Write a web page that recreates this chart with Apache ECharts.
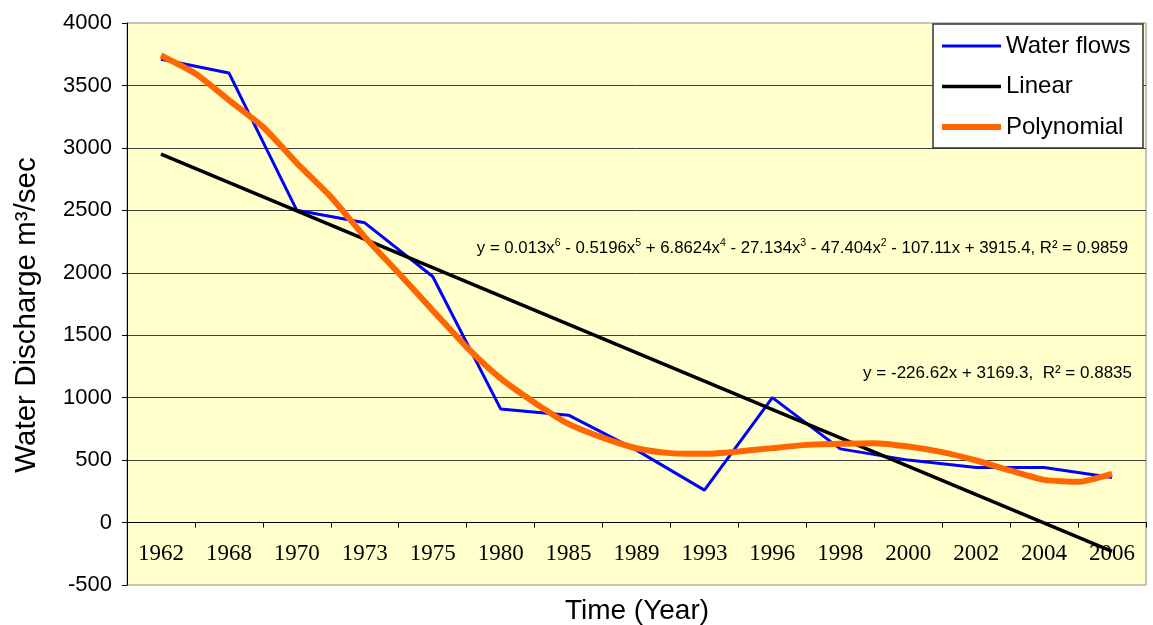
<!DOCTYPE html>
<html><head><meta charset="utf-8">
<script src="https://cdn.jsdelivr.net/npm/echarts@6/dist/echarts.min.js"></script>
<style>html,body{margin:0;padding:0;background:#fff}#c{width:1153px;height:625px}</style>
</head><body><div id="c"></div>
<script>
// Category labels (years)
const years = ['1962','1968','1970','1973','1975','1980','1985','1989','1993','1996','1998','2000','2002','2004','2006'];
// Observed water flows (m3/sec)
const waterFlows = [3710, 3600, 2500, 2400, 1970, 910, 860, 580, 260, 1000, 590, 500, 440, 440, 360];
// Linear trend line, read at first and last category
const linearEnds = [2950, -230];
// Polynomial trend, read at every category and half-way between categories
const polynomial = [3740, 3597, 3383, 3169, 2878, 2608, 2287, 1996, 1699, 1405, 1154, 960, 790, 680, 595,
                    556, 550, 569, 596, 622, 631, 636, 609, 564, 497, 417, 342, 326, 390];
// Y-axis ticks
const yMin = -500, yMax = 4000, yStep = 500;

const chart = echarts.init(document.getElementById('c'), null, {renderer: 'canvas'});
const sans = 'Liberation Sans, Arial, sans-serif';
const serif = 'Liberation Serif, Times New Roman, serif';

const polyData = polynomial.map((v, k) => [0.5 + k * 0.5, v]);
const linData = [[0.5, linearEnds[0]], [years.length - 0.5, linearEnds[1]]];

// legend icons: a band inside a 60x12 box (move-to points fix the box)
const bandIcon = (h) => 'path://M0,0 M60,12 M0,' + (6 - h / 2) + ' H60 V' + (6 + h / 2) + ' H0 Z';

const gridTop = 23, gridBottom = 40, plotH = 625 - gridTop - gridBottom;
const zeroOffset = -plotH * (0 - yMin) / (yMax - yMin);

chart.setOption({
  animation: false,
  backgroundColor: '#ffffff',
  grid: {left: 127, right: 7, top: gridTop, bottom: gridBottom, show: true,
         backgroundColor: '#FFFFCC', borderColor: '#8c8c8c', borderWidth: 1},
  legend: {
    data: [
      {name: 'Water flows', icon: bandIcon(3), itemStyle: {color: '#0000FF'}},
      {name: 'Linear', icon: bandIcon(3.5), itemStyle: {color: '#000000'}},
      {name: 'Polynomial', icon: bandIcon(6), itemStyle: {color: '#FF6600'}}
    ],
    orient: 'vertical', left: 942, top: 34, padding: 0,
    itemWidth: 59, itemHeight: 12, itemGap: 16.5, z: 20,
    textStyle: {fontFamily: sans, fontSize: 24, color: '#000', lineHeight: 24}
  },
  xAxis: [
    {type: 'category', data: years, boundaryGap: true, position: 'bottom', offset: zeroOffset,
     axisLine: {onZero: false, lineStyle: {color: '#000', width: 1}},
     axisTick: {show: true, length: 5, lineStyle: {color: '#000'}},
     axisLabel: {interval: 0, color: '#000', fontFamily: serif, fontSize: 23, margin: 20},
     splitLine: {show: false}},
    {type: 'value', min: 0, max: years.length, show: false}
  ],
  yAxis: {
    type: 'value', min: yMin, max: yMax, interval: yStep,
    axisLine: {show: true, onZero: false, lineStyle: {color: '#000', width: 1}},
    axisTick: {show: true, length: 5, lineStyle: {color: '#000'}},
    axisLabel: {color: '#000', fontFamily: sans, fontSize: 22, margin: 15, formatter: (v) => String(v)},
    splitLine: {show: true, showMinLine: false, showMaxLine: false, lineStyle: {color: '#404040', width: 1}}
  },
  graphic: [
    {type: 'rect', z: 10, shape: {x: 933, y: 24, width: 210, height: 124},
     style: {fill: '#ffffff', stroke: '#333333', lineWidth: 1.5}},
    {type: 'text', x: 637, y: 611, z: 10,
     style: {text: 'Time (Year)', fontFamily: sans, fontSize: 28, fill: '#000', align: 'center', verticalAlign: 'middle'}},
    {type: 'text', x: 27, y: 315, rotation: Math.PI / 2, z: 10,
     style: {text: 'Water Discharge m³/sec', fontFamily: sans, fontSize: 29.5, fill: '#000', align: 'center', verticalAlign: 'middle'}},
    {type: 'text', x: 1128, y: 248, z: 10,
     style: {text: 'y = 0.013x{s|6} - 0.5196x{s|5} + 6.8624x{s|4} - 27.134x{s|3} - 47.404x{s|2} - 107.11x + 3915.4, R² = 0.9859',
             fontFamily: sans, fontSize: 16.8, fill: '#000', align: 'right', verticalAlign: 'middle', lineHeight: 20,
             rich: {s: {fontFamily: sans, fontSize: 10.5, fill: '#000', verticalAlign: 'top', lineHeight: 12}}}},
    {type: 'text', x: 1132, y: 373, z: 10,
     style: {text: 'y = -226.62x + 3169.3,  R² = 0.8835', fontFamily: sans, fontSize: 17, fill: '#000',
             align: 'right', verticalAlign: 'middle'}}
  ],
  series: [
    {name: 'Water flows', type: 'line', xAxisIndex: 0, data: waterFlows, symbol: 'none', z: 3,
     color: '#0000FF', lineStyle: {color: '#0000FF', width: 3}},
    {name: 'Linear', type: 'line', xAxisIndex: 1, data: linData, symbol: 'none', z: 4,
     color: '#000000', lineStyle: {color: '#000000', width: 3.5}},
    {name: 'Polynomial', type: 'line', xAxisIndex: 1, data: polyData, symbol: 'none', smooth: 0.2, z: 5,
     color: '#FF6600', lineStyle: {color: '#FF6600', width: 6}}
  ]
});
</script>
</body></html>
